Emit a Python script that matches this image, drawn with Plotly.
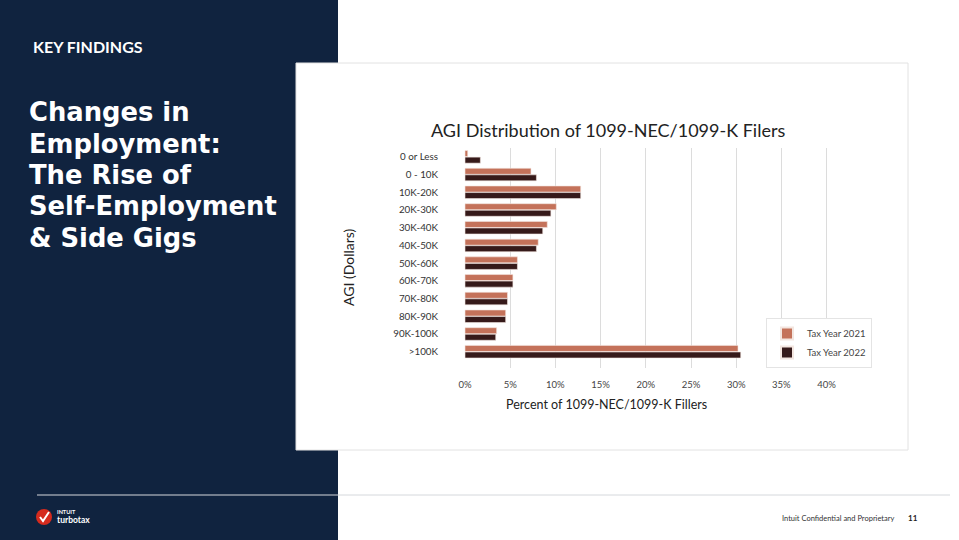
import plotly.graph_objects as go

categories = ["0 or Less", "0 - 10K", "10K-20K", "20K-30K", "30K-40K", "40K-50K",
              "50K-60K", "60K-70K", "70K-80K", "80K-90K", "90K-100K", ">100K"]
tax_2021 = [0.3, 7.3, 12.8, 10.1, 9.1, 8.1, 5.8, 5.3, 4.7, 4.5, 3.5, 30.2]
tax_2022 = [1.7, 7.9, 12.8, 9.5, 8.6, 7.9, 5.8, 5.3, 4.7, 4.5, 3.4, 30.5]
x_ticks = [0, 5, 10, 15, 20, 25, 30, 35, 40]
x_tick_labels = ["0%", "5%", "10%", "15%", "20%", "25%", "30%", "35%", "40%"]
title_lines = ["Changes in", "Employment:", "The Rise of", "Self-Employment", "& Side Gigs"]

W, H = 959, 540
def px(x): return x / W
def py(y): return 1 - y / H

NAVY = "#10233f"
C21 = "#c4725a"
C22 = "#361a1a"
FONT = "Lato"

fig = go.Figure()
fig.add_trace(go.Bar(y=categories, x=tax_2021, orientation="h", name="Tax Year 2021",
                     marker=dict(color=C21, line=dict(color="#f3e6e0", width=0.6))))
fig.add_trace(go.Bar(y=categories, x=tax_2022, orientation="h", name="Tax Year 2022",
                     marker=dict(color=C22, line=dict(color="#f3e6e0", width=0.6))))

x_left, x_right = 455.0, 840.0
zero_px, per_pct = 465.0, 9.04
xr = [(x_left - zero_px) / per_pct, (x_right - zero_px) / per_pct]

fig.update_layout(
    width=W, height=H,
    margin=dict(l=0, r=0, t=0, b=0),
    paper_bgcolor="white",
    plot_bgcolor="rgba(0,0,0,0)",
    barmode="group",
    bargap=0.26,
    bargroupgap=0.08,
    font=dict(family=FONT, color="#333333"),
    xaxis=dict(
        domain=[px(x_left), px(x_right)],
        range=xr,
        tickvals=x_ticks, ticktext=x_tick_labels,
        showgrid=True, gridcolor="#dcdcdc", gridwidth=1.3,
        zeroline=True, zerolinecolor="white", zerolinewidth=1,
        showline=False, ticks="",
        tickfont=dict(size=9.5, color="#444444", family=FONT),
        ticklabelstandoff=9,
        fixedrange=True,
    ),
    yaxis=dict(
        domain=[py(368), py(148)],
        range=[11.92, -0.5],
        type="category",
        showgrid=False, zeroline=False, showline=False, ticks="",
        tickfont=dict(size=9.8, color="#333333", family=FONT),
        ticklabelstandoff=16,
        fixedrange=True,
    ),
    legend=dict(
        x=px(766), y=py(318), xanchor="left", yanchor="top",
        bgcolor="white", bordercolor="#e4e4e4", borderwidth=1,
        font=dict(size=9.5, color="#444444", family=FONT),
        itemsizing="constant",
        tracegroupgap=4,
    ),
    showlegend=True,
)

shapes = [
    dict(type="rect", xref="paper", yref="paper", x0=0, x1=px(338), y0=0, y1=1,
         fillcolor=NAVY, line=dict(width=0), layer="below"),
    dict(type="rect", xref="paper", yref="paper", x0=px(296), x1=px(908), y0=py(450), y1=py(63),
         fillcolor="white", line=dict(color="#e2e2e2", width=1), layer="below"),
    dict(type="line", xref="paper", yref="paper", x0=px(37), x1=px(950), y0=py(495), y1=py(495),
         line=dict(color="#d5d8dc", width=1), layer="above"),
    dict(type="circle", xref="paper", yref="paper", x0=px(36), x1=px(52), y0=py(525), y1=py(509),
         fillcolor="#d52b1e", line=dict(width=0), layer="above"),
    dict(type="path", xref="paper", yref="paper",
         path=f"M {px(40)} {py(517)} L {px(43)} {py(521)} L {px(49)} {py(512)}",
         line=dict(color="white", width=2), layer="above"),
]
fig.update_layout(shapes=shapes)

ann = []
def add_text(text, x, y, size, color, weight=400, xanchor="left", yanchor="middle", angle=0,
             family=FONT, align="center"):
    ann.append(dict(text=text, x=px(x), y=py(y), xref="paper", yref="paper",
                    xanchor=xanchor, yanchor=yanchor, showarrow=False, textangle=angle, align=align,
                    font=dict(size=size, color=color, family=family, weight=weight)))

add_text("KEY FINDINGS", 31, 47, 16, "white", weight=700)

line_y = [112, 143.5, 174.5, 206, 238]
for t, yy in zip(title_lines, line_y):
    add_text(t, 27, yy, 25.8, "white", weight=700, family="DejaVu Sans")

add_text("AGI Distribution of 1099-NEC/1099-K Filers", 608, 130, 18, "#222222", xanchor="center")
add_text("AGI (Dollars)", 348, 267, 14, "#222222", xanchor="center", angle=-90)
add_text("Percent of 1099-NEC/1099-K Fillers", 606, 404, 12.5, "#222222", xanchor="center")

add_text("INTUIT", 55, 512, 5.5, "white", weight=700)
add_text("turbotax", 55, 520, 8.5, "white", weight=700)
add_text("Intuit Confidential and Proprietary", 897, 518, 7.5, "#333333", xanchor="right")
add_text("11", 913, 518, 8, "#222222", weight=700, xanchor="center")

fig.update_layout(annotations=ann)
fig.write_html("out.html", config={"displayModeBar": False})
